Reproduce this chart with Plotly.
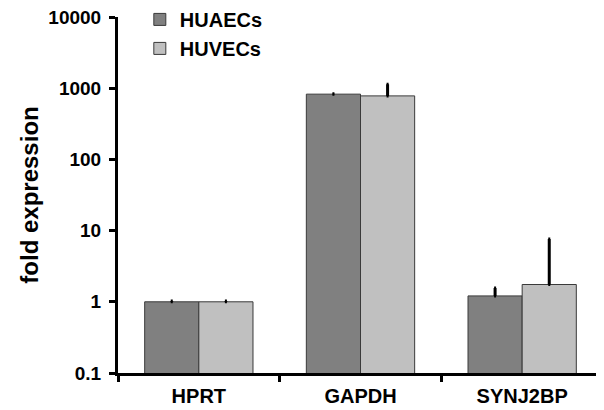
import plotly.graph_objects as go

categories = ["HPRT", "GAPDH", "SYNJ2BP"]
huaec_values = [1.0, 825, 1.21]
huaec_err = [0.03, 12, 0.35]
huvec_values = [1.0, 780, 1.75]
huvec_err = [0.03, 360, 5.85]
ytick_vals = [0.1, 1, 10, 100, 1000, 10000]
ytick_text = ["0.1", "1", "10", "100", "1000", "10000"]

font_family = "Liberation Sans, Arial, sans-serif"

fig = go.Figure()
fig.add_trace(go.Bar(
    x=categories, y=huaec_values, name="HUAECs",
    marker=dict(color="#808080", line=dict(color="#3a3a3a", width=1)),
    error_y=dict(type="data", array=huaec_err, arrayminus=[0, 0, 0], symmetric=False,
                 color="black", thickness=3, width=1),
))
fig.add_trace(go.Bar(
    x=categories, y=huvec_values, name="HUVECs",
    marker=dict(color="#c0c0c0", line=dict(color="#3a3a3a", width=1)),
    error_y=dict(type="data", array=huvec_err, arrayminus=[0, 0, 0], symmetric=False,
                 color="black", thickness=3, width=1),
))

# the page body has an 8px margin, so the figure is sized to fit the window
fig.update_layout(
    width=596, height=402,
    margin=dict(l=110, r=1, t=9, b=37, autoexpand=False),
    paper_bgcolor="white", plot_bgcolor="white",
    barmode="group", bargap=0.33, bargroupgap=0,
    font=dict(family=font_family, color="black", size=19, weight="bold"),
    showlegend=True,
    legend=dict(x=0.045, y=1.048, xanchor="left", yanchor="top",
                font=dict(size=20, family=font_family, weight="bold"),
                bgcolor="rgba(0,0,0,0)", itemwidth=30, tracegroupgap=0),
    xaxis=dict(showline=True, linecolor="black", linewidth=3,
               ticks="outside", tickson="boundaries", ticklen=6, tickwidth=3,
               tickcolor="black", tickfont=dict(size=20, weight="bold"),
               ticklabelstandoff=3,
               showgrid=False, zeroline=False),
    yaxis=dict(type="log", range=[-1, 4], showline=True, linecolor="black", linewidth=3,
               ticks="outside", ticklen=6, tickwidth=3, tickcolor="black",
               tickvals=ytick_vals, ticktext=ytick_text,
               tickfont=dict(size=19, weight="bold"),
               ticklabelstandoff=4, ticklabeloverflow="allow",
               showgrid=False, zeroline=False,
               title=dict(text="fold expression", font=dict(size=24, weight="bold"), standoff=3)),
)

fig.write_html("out.html")
